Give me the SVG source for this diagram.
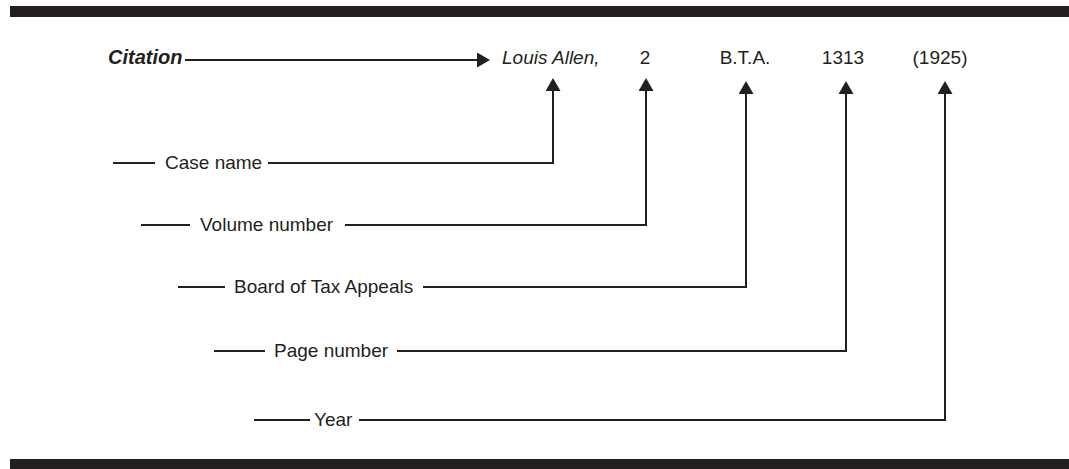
<svg xmlns="http://www.w3.org/2000/svg" width="1069" height="469" viewBox="0 0 1069 469">
  <style>
    .bar { fill: #231f20; }
    .t { font-family: "Liberation Sans", Arial, sans-serif; font-size: 19px; fill: #231f20; }
    .it { font-style: italic; }
    .cite { font-weight: bold; font-style: italic; font-size: 20px; }
    .ln { fill: none; stroke: #231f20; stroke-width: 2; }
    .ar { fill: none; stroke: #231f20; stroke-width: 2; marker-end: url(#head); }
  </style>
  <defs>
    <marker id="head" markerUnits="userSpaceOnUse" markerWidth="14" markerHeight="15" refX="0" refY="7.5" orient="auto" viewBox="0 0 14 15">
      <path d="M0,0 L13,7.5 L0,15 Z" fill="#231f20"/>
    </marker>
  </defs>

  <rect class="bar" x="10" y="6" width="1059" height="11"/>
  <rect class="bar" x="10" y="459" width="1059" height="10"/>

  <!-- citation line -->
  <g id="citation">
    <text class="t cite" x="108" y="64">Citation</text>
  </g>
  <g id="case-name-part">
    <text class="t it" x="502" y="64">Louis Allen,</text>
  </g>
  <g id="volume-part">
    <text class="t" x="645" y="64" text-anchor="middle">2</text>
  </g>
  <g id="reporter-part">
    <text class="t" x="745" y="64" text-anchor="middle">B.T.A.</text>
  </g>
  <g id="page-part">
    <text class="t" x="843" y="64" text-anchor="middle">1313</text>
  </g>
  <g id="year-part">
    <text class="t" x="940" y="64" text-anchor="middle">(1925)</text>
  </g>

  <!-- labels -->
  <g id="label-case-name">
    <line class="ln" x1="113" y1="163" x2="155" y2="163"/>
    <text class="t" x="165" y="169">Case name</text>
  </g>
  <g id="label-volume">
    <line class="ln" x1="141" y1="225" x2="190" y2="225"/>
    <text class="t" x="200" y="231">Volume number</text>
  </g>
  <g id="label-board">
    <line class="ln" x1="178" y1="287" x2="225" y2="287"/>
    <text class="t" x="234" y="293">Board of Tax Appeals</text>
  </g>
  <g id="label-page">
    <line class="ln" x1="214" y1="351" x2="265" y2="351"/>
    <text class="t" x="274" y="357">Page number</text>
  </g>
  <g id="label-year">
    <line class="ln" x1="254" y1="420" x2="310" y2="420"/>
    <text class="t" x="314" y="426">Year</text>
  </g>

  <!-- connectors -->
  <g id="connectors">
    <path class="ar" d="M185,60 H477"/>
    <path class="ar" d="M268,163 H553 V91"/>
    <path class="ar" d="M345,225 H646 V91"/>
    <path class="ar" d="M423,287 H746 V94"/>
    <path class="ar" d="M397,351 H846 V94"/>
    <path class="ar" d="M359,420 H945 V94"/>
  </g>
</svg>
